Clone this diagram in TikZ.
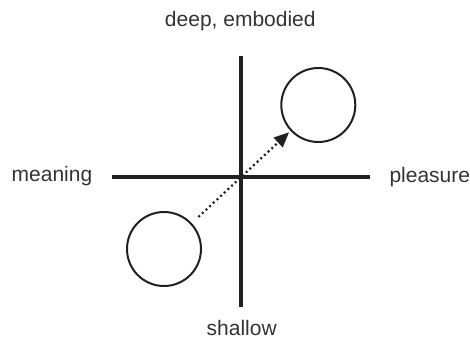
\documentclass[tikz,border=0pt]{standalone}
\usepackage{fontspec}
\setmainfont{Liberation Sans}
\usetikzlibrary{arrows.meta}
\definecolor{ink}{HTML}{231F20}
\definecolor{txt}{HTML}{333333}
\tikzset{
  axis/.style={draw=ink, line width=4pt},
  ball/.style={circle, draw=ink, line width=2pt, minimum size=74pt, inner sep=0pt},
  lbl/.style={text=txt, font=\fontsize{21}{25}\selectfont, inner sep=0pt, anchor=base},
  move/.style={draw=ink, line width=2.2pt, dash pattern=on 2pt off 3pt,
    -{Triangle[length=15pt,width=13pt]}}
}
\begin{document}
\begin{tikzpicture}[x=1pt,y=-1pt]
\useasboundingbox (0,0) rectangle (470,338);
\coordinate (ht) at (240.7,56);
\coordinate (hb) at (240.7,306.5);
\coordinate (hl) at (112,176.7);
\coordinate (hr) at (370,176.7);
\draw[axis] (ht) -- (hb);
\draw[axis] (hl) -- (hr);
\node[ball] (low) at (164,249) {};
\node[ball] (up) at (318.3,105) {};
\draw[move, shorten <=9pt, shorten >=2pt] (low) -- (up);
\node[lbl] (deep) at (240.3,26.7) {deep, embodied};
\node[lbl] (shallow) at (241.7,335) {shallow};
\node[lbl, anchor=base west] (meaning) at (11.5,181.7) {meaning};
\node[lbl, anchor=base west] (pleasure) at (389.3,182.5) {pleasure};
\end{tikzpicture}
\end{document}
